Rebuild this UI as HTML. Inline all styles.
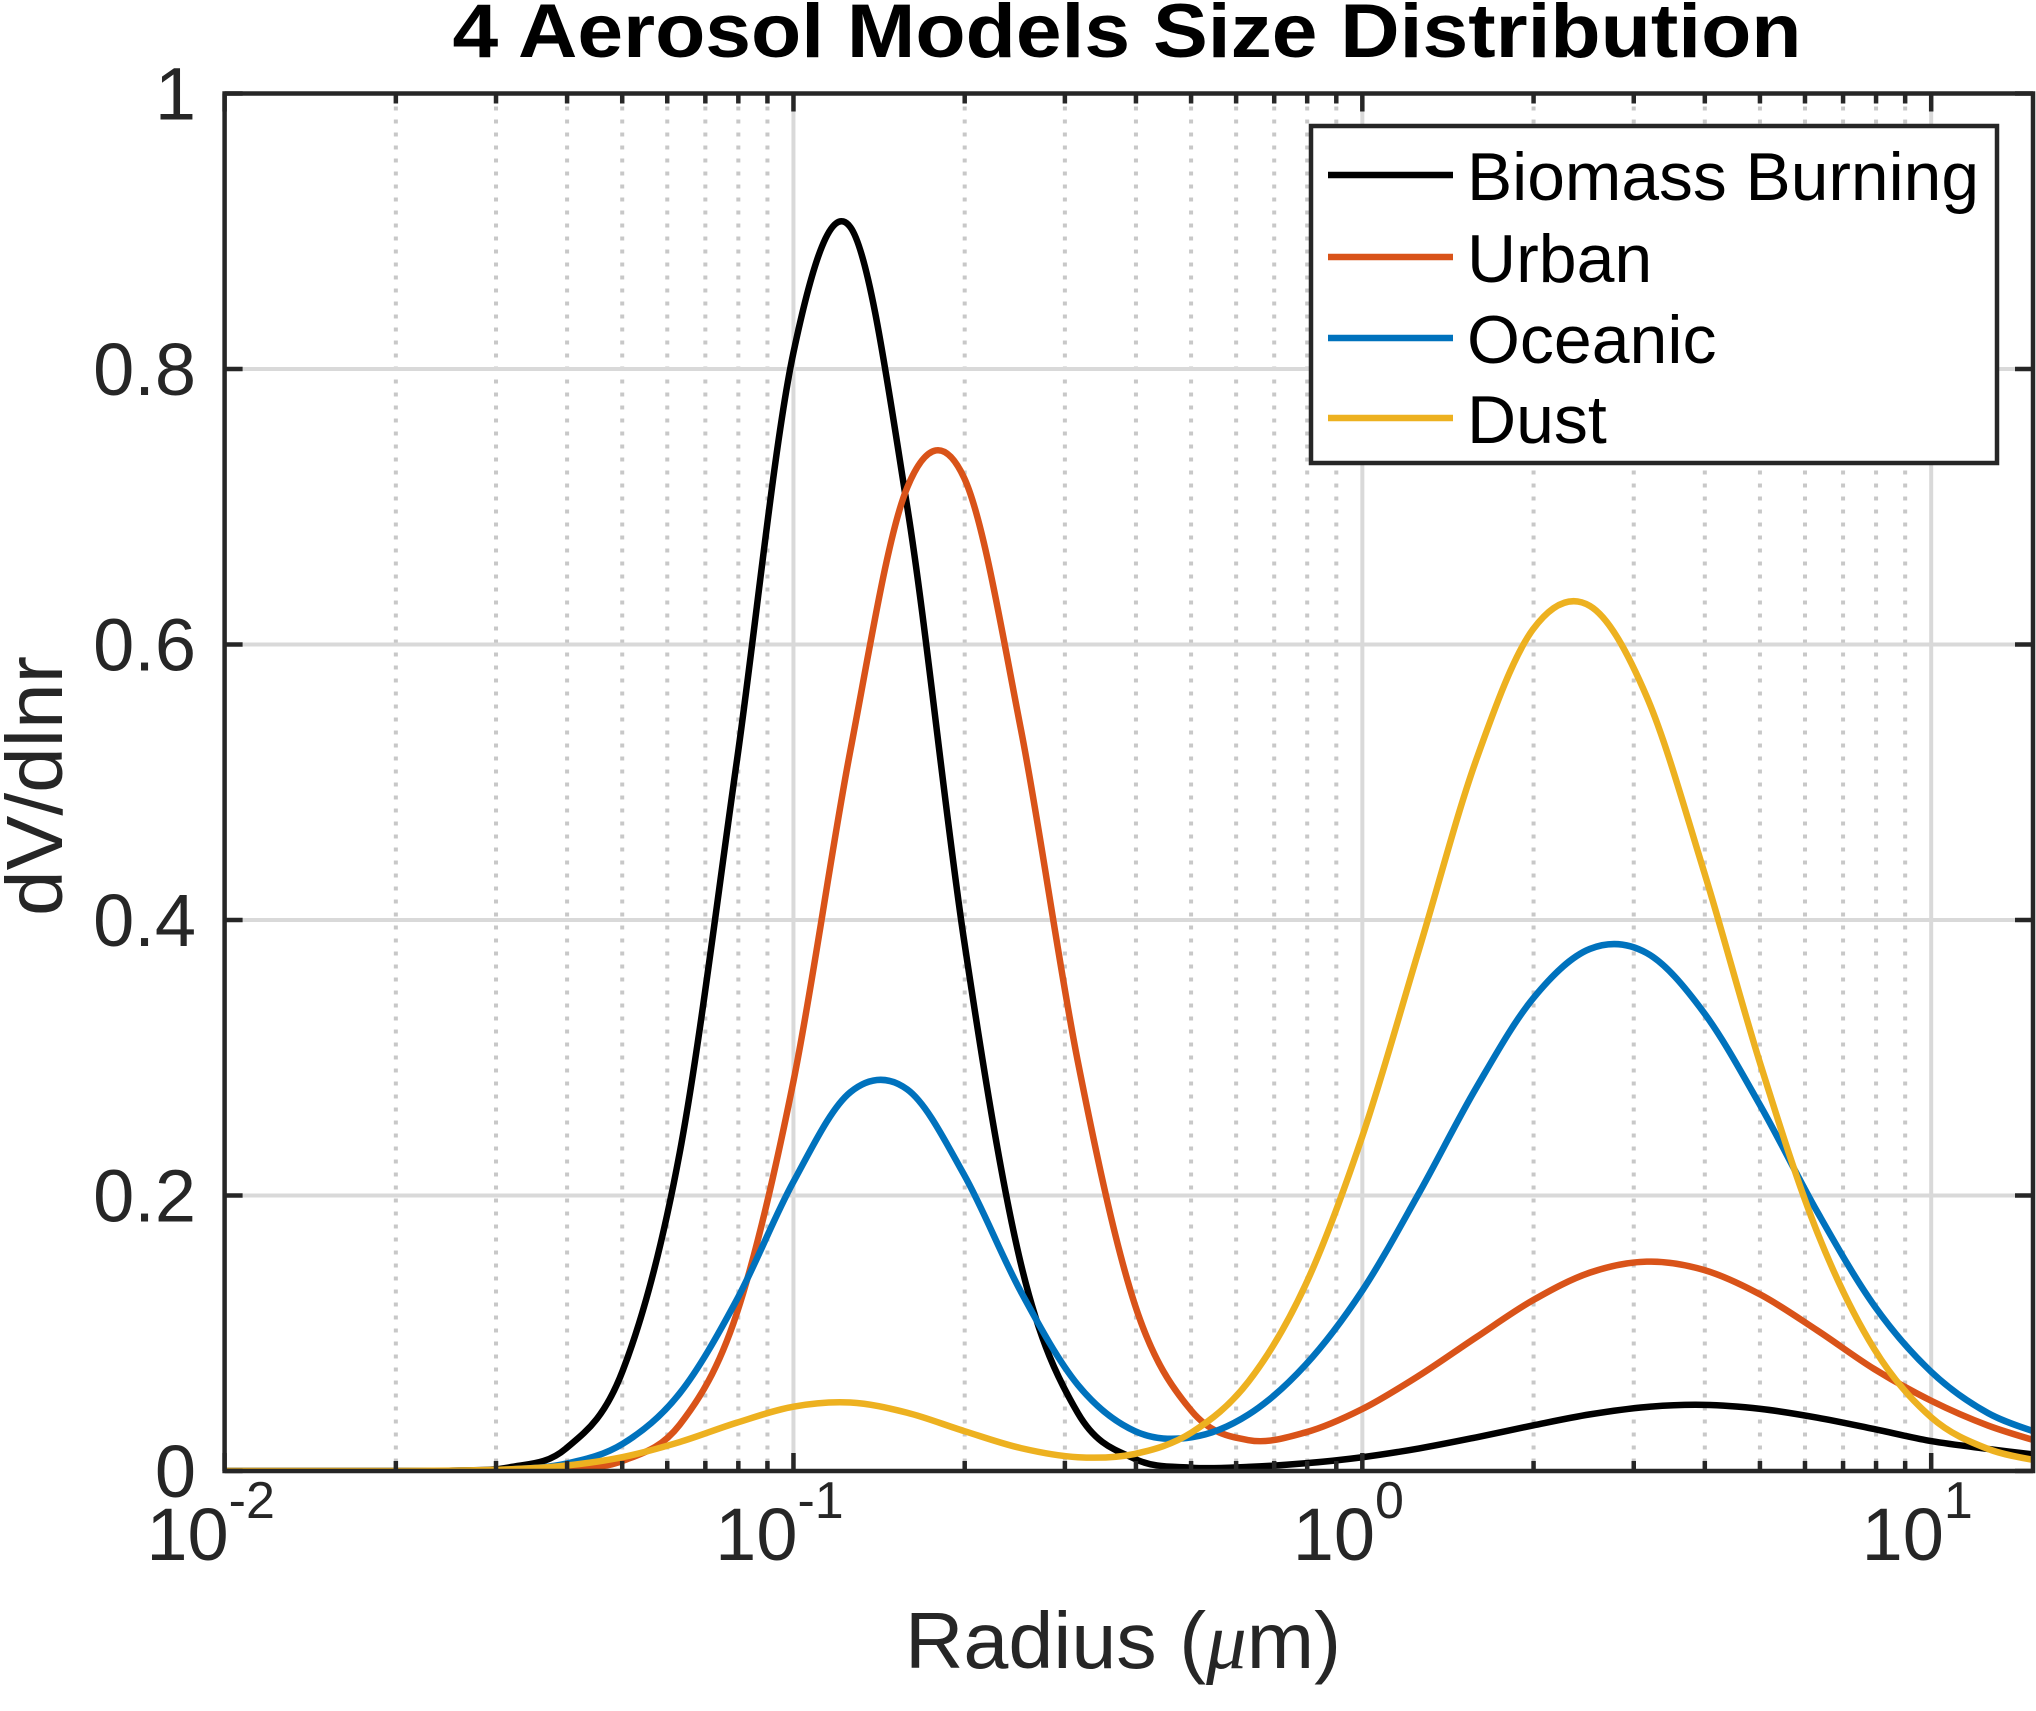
<!DOCTYPE html>
<html><head><meta charset="utf-8"><style>
html,body{margin:0;padding:0;background:#fff;}
svg{display:block;font-family:"Liberation Sans",Arial,sans-serif;}
</style></head><body>
<svg id="chart" width="2036" height="1711" viewBox="0 0 2036 1711" xmlns="http://www.w3.org/2000/svg">
<rect x="0" y="0" width="2036" height="1711" fill="#fff"/>
<g id="grid"></g>
<g id="series"></g>
<g id="axes"></g>
<text x="1127" y="57" text-anchor="middle" font-size="76" font-weight="bold" textLength="1349" lengthAdjust="spacingAndGlyphs" fill="#000">4 Aerosol Models Size Distribution</text>
<text x="1123" y="1668" text-anchor="middle" font-size="80" textLength="436" lengthAdjust="spacingAndGlyphs" fill="#262626">Radius (<tspan font-style="italic" font-family="Liberation Serif, serif">μ</tspan>m)</text>
<text transform="translate(62,786) rotate(-90)" text-anchor="middle" font-size="80" textLength="260" lengthAdjust="spacingAndGlyphs" fill="#262626">dV/dlnr</text>
<g id="legend"></g>
</svg>
<script>
const logR = [-2.0,-1.9,-1.8,-1.7,-1.6,-1.5,-1.4,-1.3,-1.2,-1.1,-1.0,-0.9,-0.8,-0.7,-0.6,-0.5,-0.4,-0.3,-0.2,-0.1,0.0,0.1,0.2,0.3,0.4,0.5,0.6,0.7,0.8,0.9,1.0,1.1,1.2];
const biomass = [0,0,0,0.00002,0.0003,0.0026,0.0163,0.073,0.231,0.514,0.812,0.903,0.700,0.385,0.150,0.042,0.0088,0.0024,0.003,0.0056,0.010,0.0164,0.0244,0.0331,0.0411,0.0465,0.048,0.0451,0.0387,0.0304,0.0217,0.0160,0.0110];
const urban = [0,0,0,0,0.00001,0.00014,0.0012,0.0074,0.0336,0.114,0.283,0.523,0.714,0.721,0.538,0.297,0.121,0.0435,0.0224,0.028,0.045,0.0693,0.097,0.124,0.144,0.152,0.146,0.128,0.102,0.074,0.051,0.033,0.020];
const oceanic = [0,0,0,0.00002,0.0002,0.0011,0.0053,0.0198,0.0564,0.124,0.210,0.275,0.277,0.215,0.130,0.0625,0.029,0.0245,0.041,0.077,0.131,0.202,0.278,0.343,0.379,0.376,0.333,0.265,0.188,0.120,0.072,0.042,0.026];
const dust = [0,0,0,0,0.0003,0.0012,0.0039,0.0101,0.021,0.035,0.0467,0.0497,0.0423,0.029,0.0166,0.010,0.0124,0.028,0.065,0.135,0.243,0.379,0.516,0.611,0.628,0.562,0.436,0.295,0.173,0.0885,0.039,0.0160,0.0065];
const seriesNames = ["Biomass Burning","Urban","Oceanic","Dust"];
const seriesColors = ["#000000","#D95319","#0072BD","#EDB120"];
const yTicks = [0,0.2,0.4,0.6,0.8,1];
const yTickLabels = ["0","0.2","0.4","0.6","0.8","1"];
const xDecades = [-2,-1,0,1];

const NS="http://www.w3.org/2000/svg";
const L=224.6,R=2033,T=93.5,B=1471;
const xmin=-2,xmax=Math.log10(15.1);
function X(lr){return L+(lr-xmin)/(xmax-xmin)*(R-L);}
function Y(v){return B-v*(B-T);}
function mk(tag,attrs,parent){const e=document.createElementNS(NS,tag);for(const k in attrs)e.setAttribute(k,attrs[k]);parent.appendChild(e);return e;}
const grid=document.getElementById('grid'),axes=document.getElementById('axes'),ser=document.getElementById('series'),leg=document.getElementById('legend');

for(let d=-2;d<=1;d++){
  for(let m=1;m<=9;m++){
    const lr=d+Math.log10(m);
    if(lr<=xmin+1e-9||lr>xmax)continue;
    const x=X(lr);
    if(m===1){
      const g=mk('line',{x1:x,x2:x,y1:T,y2:B,stroke:'#d9d9d9','stroke-width':4},grid);
      
      
    } else {
      const g=mk('line',{x1:x,x2:x,y1:T,y2:B,stroke:'#c8c8c8','stroke-width':4,'stroke-dasharray':'4 9'},grid);
      
      
    }
  }
}
yTicks.forEach(v=>{
  if(v===0||v===1)return;
  const g=mk('line',{x1:L,x2:R,y1:Y(v),y2:Y(v),stroke:'#d9d9d9','stroke-width':4},grid);
  
  
});

function pathFor(vals){
  const pts=logR.map((lr,i)=>[X(lr),Y(vals[i])]);
  let d='M'+pts[0][0].toFixed(2)+','+pts[0][1].toFixed(2);
  for(let i=0;i<pts.length-1;i++){
    const p0=pts[Math.max(0,i-1)],p1=pts[i],p2=pts[i+1],p3=pts[Math.min(pts.length-1,i+2)];
    const c1=[p1[0]+(p2[0]-p0[0])/6,p1[1]+(p2[1]-p0[1])/6];
    const c2=[p2[0]-(p3[0]-p1[0])/6,p2[1]-(p3[1]-p1[1])/6];
    d+=' C'+c1[0].toFixed(2)+','+c1[1].toFixed(2)+' '+c2[0].toFixed(2)+','+c2[1].toFixed(2)+' '+p2[0].toFixed(2)+','+p2[1].toFixed(2);
  }
  return d;
}
mk('clipPath',{id:'plotclip'},mk('defs',{},document.getElementById('chart')));
mk('rect',{x:L,y:T-10,width:R-L,height:B-T+10},document.getElementById('plotclip'));
ser.setAttribute('clip-path','url(#plotclip)');
const allSeries=[biomass,urban,oceanic,dust];
const serNames=['biomass-burning-line','urban-line','oceanic-line','dust-line'];
allSeries.forEach((vals,i)=>{
  const p=mk('path',{d:pathFor(vals),fill:'none',stroke:seriesColors[i],'stroke-width':6.5,'stroke-linejoin':'round'},ser);
  
  
});

const box=mk('rect',{x:L,y:T,width:R-L,height:B-T,fill:'none',stroke:'#262626','stroke-width':4.5},axes);


for(let d=-2;d<=1;d++){
  for(let m=1;m<=9;m++){
    const lr=d+Math.log10(m);
    if(lr<xmin-1e-9||lr>xmax)continue;
    const x=X(lr),len=m===1?18:10;
    const t1=mk('line',{x1:x,x2:x,y1:B,y2:B-len,stroke:'#262626','stroke-width':4.5},axes);
    
    
    const t2=mk('line',{x1:x,x2:x,y1:T,y2:T+len,stroke:'#262626','stroke-width':4.5},axes);
    
    
  }
}
xDecades.forEach(d=>{
  const x=X(d);
  const t=mk('text',{x:x-14,y:1560,'text-anchor':'middle','font-size':74,fill:'#262626'},axes);
  
  
  t.textContent='10';
  const s=mk('tspan',{dy:-42,'font-size':52},t);
  s.textContent=String(d);
});
yTicks.forEach((v,i)=>{
  const y=Y(v);
  const a=mk('line',{x1:L,x2:L+18,y1:y,y2:y,stroke:'#262626','stroke-width':4.5},axes);
  
  
  const b=mk('line',{x1:R,x2:R-18,y1:y,y2:y,stroke:'#262626','stroke-width':4.5},axes);
  
  
  const t=mk('text',{x:196,y:y+26,'text-anchor':'end','font-size':74,fill:'#262626'},axes);
  
  
  t.textContent=yTickLabels[i];
});

const lb=mk('rect',{x:1311,y:126,width:686,height:337,fill:'#fff',stroke:'#262626','stroke-width':4.5},leg);


const rowY=[175,257,338,418];
const entryNames=['legend-entry-biomass-burning','legend-entry-urban','legend-entry-oceanic','legend-entry-dust'];
seriesNames.forEach((n,i)=>{
  const g=mk('g',{},leg);
  
  
  mk('line',{x1:1328,x2:1453,y1:rowY[i],y2:rowY[i],stroke:seriesColors[i],'stroke-width':6.5},g);
  const t=mk('text',{x:1467,y:rowY[i]+25,'font-size':68,fill:'#000'},g);
  if(i===0){t.setAttribute('textLength','512');t.setAttribute('lengthAdjust','spacingAndGlyphs');}
  t.textContent=n;
});
</script>
</body></html>
